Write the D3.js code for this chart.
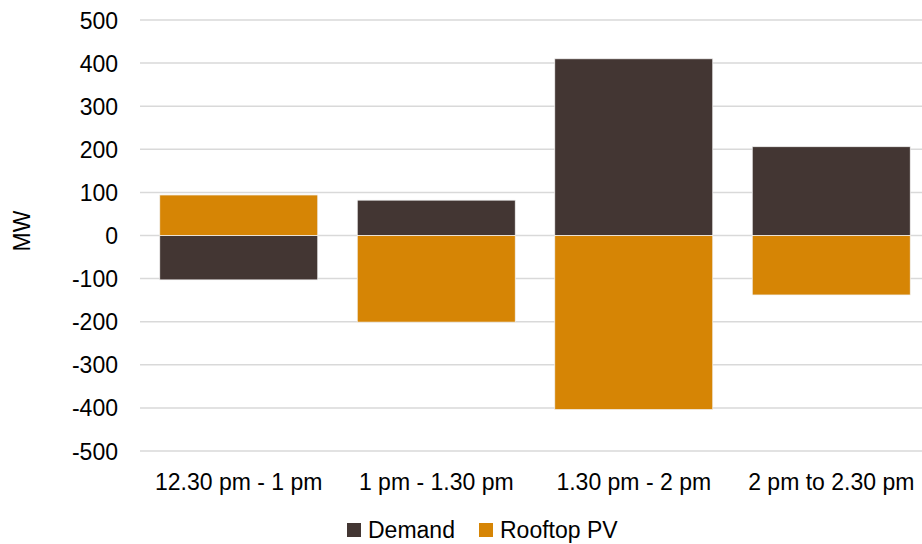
<!DOCTYPE html>
<html><head><meta charset="utf-8">
<script src="https://cdn.jsdelivr.net/npm/d3@7"></script>
<style>body{margin:0;background:#fff}svg{display:block}text{font-family:"Liberation Sans",Arial,sans-serif;fill:#000}</style>
</head><body><svg id="c" width="922" height="544"></svg>
<script>
const categories = ["12.30 pm - 1 pm", "1 pm - 1.30 pm", "1.30 pm - 2 pm", "2 pm to 2.30 pm"];
const seriesNames = ["Demand", "Rooftop PV"];
const demand = [-103, 82, 410, 206];
const rooftopPV = [94, -201, -404, -138];
const yTicks = [-500, -400, -300, -200, -100, 0, 100, 200, 300, 400, 500];
const colors = ["#433633", "#D68505"];

const FS = 23;
const svg = d3.select("#c");
const x = d3.scaleBand().domain(categories).range([140, 930]).paddingInner(0.2).paddingOuter(0.1);
const y = d3.scaleLinear().domain([-500, 500]).range([451, 20]);

// grid
svg.append("g").selectAll("line").data(yTicks).join("line")
  .attr("x1", 140).attr("x2", 922)
  .attr("y1", d => y(d)).attr("y2", d => y(d))
  .attr("stroke", "#d9d9d9").attr("stroke-width", 1.5);

const rows = categories.map((c, i) => ({cat: c, Demand: demand[i], "Rooftop PV": rooftopPV[i]}));
const stack = d3.stack().keys(seriesNames).offset(d3.stackOffsetDiverging)(rows);

svg.append("g").selectAll("g").data(stack).join("g")
  .attr("fill", (d, i) => colors[i])
  .selectAll("rect").data(d => d).join("rect")
  .attr("x", d => x(d.data.cat))
  .attr("width", x.bandwidth())
  .attr("y", d => y(Math.max(d[0], d[1])))
  .attr("height", d => Math.abs(y(d[0]) - y(d[1])))
  .attr("stroke", "#f2f2f2").attr("stroke-width", 0.75);

// y axis labels
const yAxis = d3.axisLeft(y).tickValues(yTicks).tickSize(0).tickPadding(0).tickFormat(d => String(d));
const gy = svg.append("g").attr("transform", "translate(118,0)").call(yAxis);
gy.select(".domain").remove();
gy.attr("font-size", FS).attr("font-family", '"Liberation Sans",Arial,sans-serif');
gy.selectAll("text").attr("fill", "#000").attr("dy", "0.35em");

// x axis labels
const xAxis = d3.axisBottom(x).tickSize(0).tickPadding(0);
const gx = svg.append("g").attr("transform", "translate(0,481.5)").call(xAxis);
gx.select(".domain").remove();
gx.attr("font-size", FS).attr("font-family", '"Liberation Sans",Arial,sans-serif');
gx.selectAll("text").attr("fill", "#000").attr("y", 0).attr("dy", "0.35em");

// y title
svg.append("text").attr("transform", "translate(22,231) rotate(-90)")
  .attr("text-anchor", "middle").attr("dy", "0.35em").attr("font-size", FS).text("MW");

// legend
const legX = [347, 479];
const leg = svg.append("g").selectAll("g").data(seriesNames).join("g")
  .attr("transform", (d, i) => `translate(${legX[i]},530)`);
leg.append("rect").attr("y", -7).attr("width", 14).attr("height", 14).attr("fill", (d, i) => colors[i]);
leg.append("text").attr("x", 21).attr("y", 0).attr("dy", "0.35em").attr("font-size", FS).text(d => d);
</script></body></html>
